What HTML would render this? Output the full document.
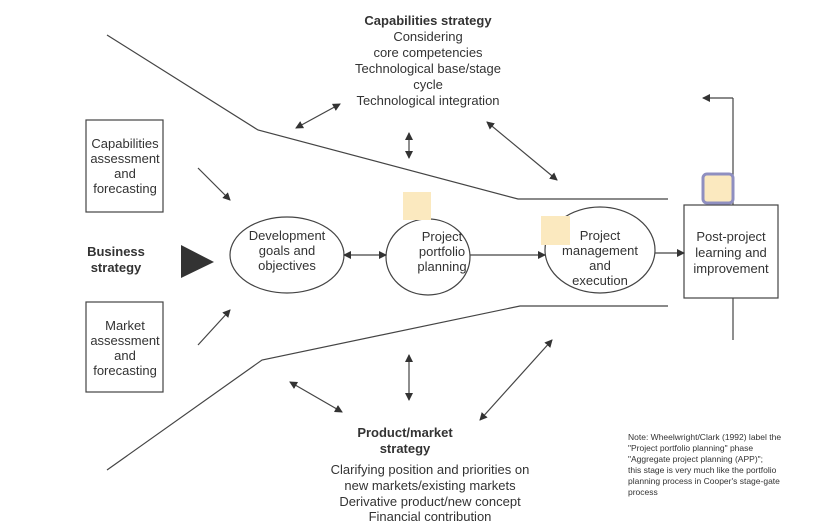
<!DOCTYPE html>
<html><head><style>
body{margin:0;background:#fff;}
svg text{font-family:"Liberation Sans",sans-serif;fill:#333;}
</style></head><body>
<svg width="832" height="522" viewBox="0 0 832 522" xmlns="http://www.w3.org/2000/svg">
<defs>
<marker id="a" markerWidth="8" markerHeight="8" refX="7" refY="4" orient="auto-start-reverse" markerUnits="userSpaceOnUse"><path d="M0,0 L8,4 L0,8 z" fill="#333"/></marker>
</defs>
<g stroke="#444" stroke-width="1.2" fill="none">
<polyline points="107,35 258,130 518,199 668,199"/>
<polyline points="107,470 262,360 520,306 668,306"/>
<rect x="86" y="120" width="77" height="92"/>
<rect x="86" y="302" width="77" height="90"/>
<ellipse cx="287" cy="255" rx="57" ry="38"/>
<ellipse cx="428" cy="257" rx="42" ry="38"/>
<ellipse cx="600" cy="250" rx="55" ry="43"/>
<rect x="684" y="205" width="94" height="93"/>
<line x1="733" y1="98" x2="733" y2="205"/>
<line x1="733" y1="98" x2="703" y2="98" marker-end="url(#a)"/>
<line x1="733" y1="298" x2="733" y2="340"/>
<line x1="198" y1="168" x2="230" y2="200" marker-end="url(#a)"/>
<line x1="198" y1="345" x2="230" y2="310" marker-end="url(#a)"/>
<line x1="344" y1="255" x2="386" y2="255" marker-start="url(#a)" marker-end="url(#a)"/>
<line x1="470" y1="255" x2="545" y2="255" marker-end="url(#a)"/>
<line x1="655" y1="253" x2="684" y2="253" marker-end="url(#a)"/>
<line x1="296" y1="128" x2="340" y2="104" marker-start="url(#a)" marker-end="url(#a)"/>
<line x1="409" y1="133" x2="409" y2="158" marker-start="url(#a)" marker-end="url(#a)"/>
<line x1="487" y1="122" x2="557" y2="180" marker-start="url(#a)" marker-end="url(#a)"/>
<line x1="290" y1="382" x2="342" y2="412" marker-start="url(#a)" marker-end="url(#a)"/>
<line x1="409" y1="355" x2="409" y2="400" marker-start="url(#a)" marker-end="url(#a)"/>
<line x1="480" y1="420" x2="552" y2="340" marker-start="url(#a)" marker-end="url(#a)"/>
</g>
<path d="M181,245 L214,262 L181,278 z" fill="#333"/>
<rect x="403" y="192" width="28" height="28" fill="#fbe9bf"/>
<rect x="541" y="216" width="29" height="29" fill="#fbe9bf"/>
<rect x="703" y="174" width="30" height="29" rx="4" fill="#fbe9bf" stroke="#8f8fc0" stroke-width="3"/>
<g font-size="13" text-anchor="middle">
<text x="428" y="25" font-weight="bold">Capabilities strategy</text>
<text x="428" y="41">Considering</text>
<text x="428" y="57">core competencies</text>
<text x="428" y="73">Technological base/stage</text>
<text x="428" y="89">cycle</text>
<text x="428" y="105">Technological integration</text>
<text x="125" y="148">Capabilities</text>
<text x="125" y="163">assessment</text>
<text x="125" y="178">and</text>
<text x="125" y="193">forecasting</text>
<text x="125" y="330">Market</text>
<text x="125" y="345">assessment</text>
<text x="125" y="360">and</text>
<text x="125" y="375">forecasting</text>
<text x="116" y="256" font-weight="bold">Business</text>
<text x="116" y="272" font-weight="bold">strategy</text>
<text x="287" y="240">Development</text>
<text x="287" y="255">goals and</text>
<text x="287" y="270">objectives</text>
<text x="442" y="241">Project</text>
<text x="442" y="256">portfolio</text>
<text x="442" y="271">planning</text>
<text x="600" y="240">Project</text>
<text x="600" y="255">management</text>
<text x="600" y="270">and</text>
<text x="600" y="285">execution</text>
<text x="731" y="241">Post-project</text>
<text x="731" y="257">learning and</text>
<text x="731" y="273">improvement</text>
<text x="405" y="437" font-weight="bold">Product/market</text>
<text x="405" y="453" font-weight="bold">strategy</text>
<text x="430" y="474">Clarifying position and priorities on</text>
<text x="430" y="490">new markets/existing markets</text>
<text x="430" y="506">Derivative product/new concept</text>
<text x="430" y="521">Financial contribution</text>
</g>
<g font-size="8.5">
<text x="628" y="440">Note:  Wheelwright/Clark (1992) label the</text>
<text x="628" y="451">"Project portfolio planning" phase</text>
<text x="628" y="462">"Aggregate project planning (APP)";</text>
<text x="628" y="473">this stage is very much like the portfolio</text>
<text x="628" y="484">planning process in Cooper's stage-gate</text>
<text x="628" y="495">process</text>
</g>
</svg>
</body></html>
